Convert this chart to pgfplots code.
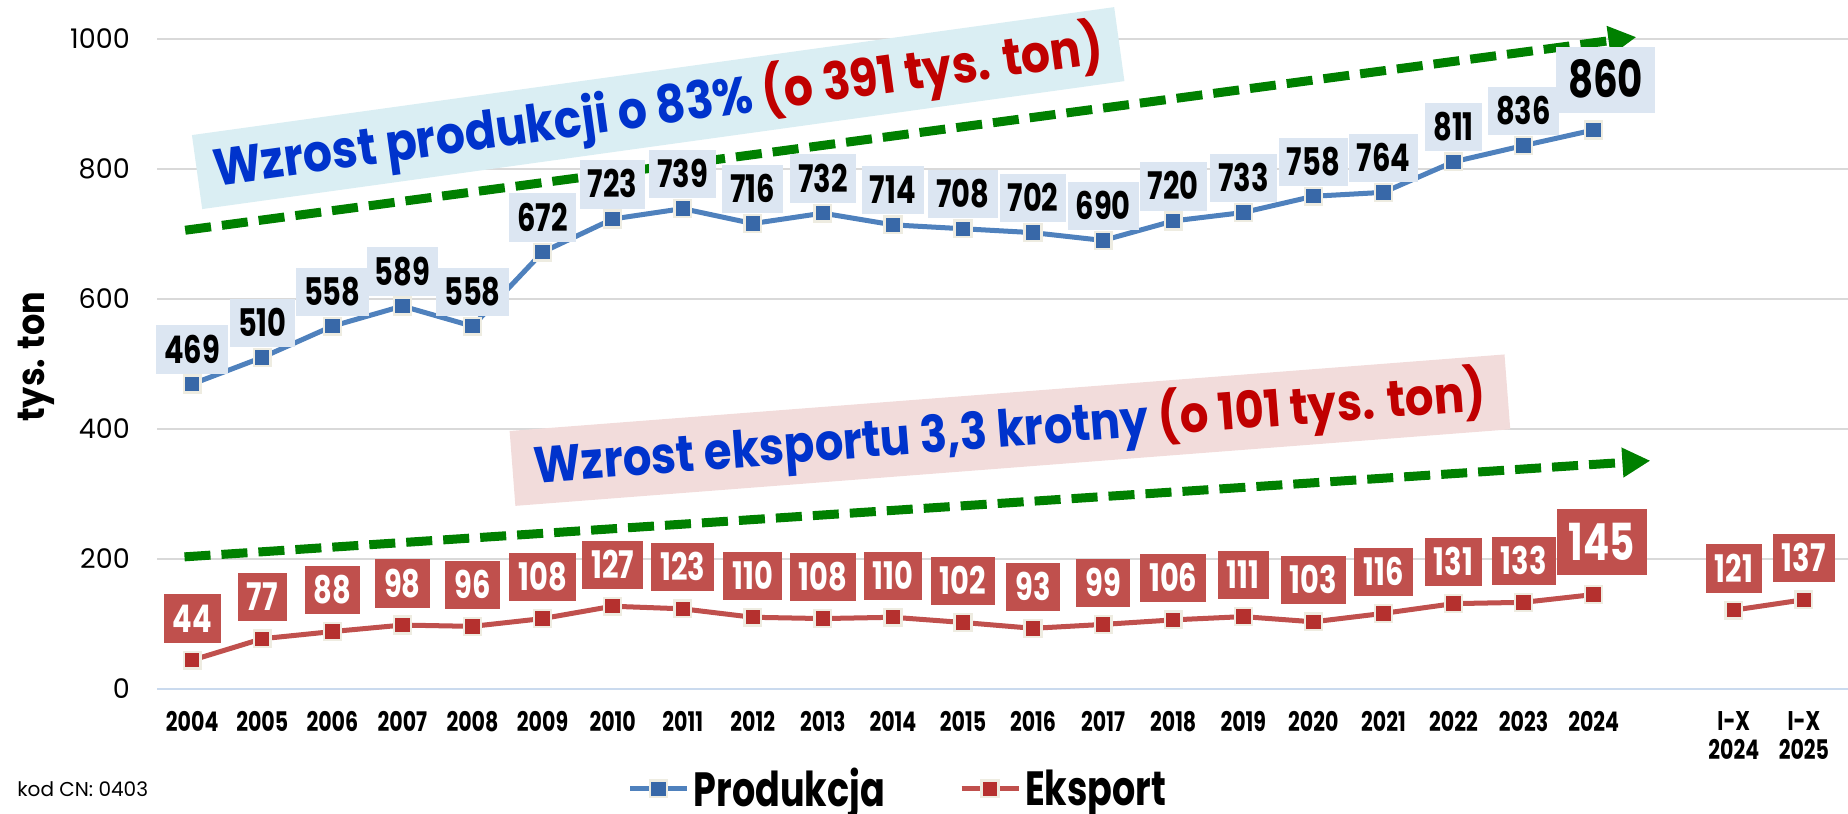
\documentclass[border=0pt]{standalone}
\usepackage{fontspec}
\setmainfont{Poppins}
\newfontfamily\fb{Poppins}[FakeStretch=0.88]
\newfontfamily\fc{Poppins}[FakeStretch=0.76]
\usepackage{pgfplots}
\pgfplotsset{compat=1.18}
\usetikzlibrary{arrows.meta}
\definecolor{prodline}{HTML}{4F81BD}
\definecolor{prodmark}{HTML}{3868A8}
\definecolor{cream}{HTML}{EEECE1}
\definecolor{lblblue}{HTML}{DCE6F2}
\definecolor{expline}{HTML}{C0504D}
\definecolor{expmark}{HTML}{B5302E}
\definecolor{annotA}{HTML}{DAEEF3}
\definecolor{annotB}{HTML}{F2DCDB}
\definecolor{txtblue}{HTML}{0033CC}
\definecolor{txtred}{HTML}{C00000}
\definecolor{arrgreen}{HTML}{008000}
\definecolor{gridgray}{HTML}{D9D9D9}
\definecolor{axisblue}{HTML}{CADAEE}
\pgfplotsset{/pgf/number format/assume math mode=true, /pgf/number format/1000 sep={}}
\begin{document}
\begin{tikzpicture}
\begin{axis}[
  name=ax,
  scale only axis,
  width=844.5pt, height=324.5pt,
  xmin=-0.5, xmax=23.63, ymin=0, ymax=1000,
  clip=false,
  axis line style={draw=none},
  tick style={draw=none},
  ytick={200,400,600,800,1000},
  extra y ticks={0},
  extra y tick style={major grid style={color=axisblue, line width=1.2pt}},
  ymajorgrids,
  major grid style={color=gridgray, line width=1pt},
  yticklabel style={font=\fontsize{13.5}{13.5}\selectfont, inner sep=0pt, anchor=east, xshift=-13.5pt},
  xtick={0,1,2,3,4,5,6,7,8,9,10,11,12,13,14,15,16,17,18,19,20,22,23},
  xticklabels={2004,2005,2006,2007,2008,2009,2010,2011,2012,2013,2014,2015,2016,2017,2018,2019,2020,2021,2022,2023,2024,{I-X\\2024},{I-X\\2025}},
  xticklabel style={font=\fc\bfseries\fontsize{13.5}{14.5}\selectfont, align=center, inner sep=0pt, anchor=north, yshift=-11pt},
  ylabel={tys. ton},
  every axis y label/.style={at={(axis description cs:-0.0716,0.511)}, rotate=90, anchor=center, font=\fb\bfseries\fontsize{19}{19}\selectfont},
  legend style={at={(axis description cs:0.4387,0)}, anchor=center, yshift=-50pt, draw=none, fill=none, inner sep=0pt,
    font=\fc\bfseries\fontsize{24}{24}\selectfont, legend columns=2, nodes={inner ysep=0pt},
    /tikz/every even column/.append style={column sep=35pt}},
  legend image code/.code={\draw[mark repeat=2, mark phase=2, #1] plot coordinates {(0pt,0pt) (14.25pt,0pt) (28.5pt,0pt)};},
]
% annotation boxes
\node[fill=annotA, rotate=7.9, inner xsep=8.5pt, minimum height=34.5pt,
  font=\fb\bfseries\fontsize{26}{26}\selectfont] at (axis cs:6.65,893.7)
  {\textcolor{txtblue}{Wzrost produkcji o 83\%} \textcolor{txtred}{(o 391 tys. ton)}};
\node[fill=annotB, rotate=4.4, inner xsep=11pt, minimum height=37.5pt,
  font=\fb\bfseries\fontsize{25.5}{25.5}\selectfont] at (axis cs:11.67,398)
  {\textcolor{txtblue}{Wzrost eksportu 3,3 krotny} \textcolor{txtred}{(o 101 tys. ton)}};
% series
\addplot[color=prodline, line width=2.5pt, mark=square*, mark size=4.2pt,
  mark options={fill=prodmark, draw=cream, line width=1.2pt}]
  coordinates {(0,469)(1,510)(2,558)(3,589)(4,558)(5,672)(6,723)(7,739)(8,716)(9,732)(10,714)(11,708)(12,702)(13,690)(14,720)(15,733)(16,758)(17,764)(18,811)(19,836)(20,860)};
\addlegendentry{Produkcja}
\addplot[color=expline, line width=2.5pt, mark=square*, mark size=4.2pt,
  mark options={fill=expmark, draw=cream, line width=1.2pt}]
  coordinates {(0,44)(1,77)(2,88)(3,98)(4,96)(5,108)(6,127)(7,123)(8,110)(9,108)(10,110)(11,102)(12,93)(13,99)(14,106)(15,111)(16,103)(17,116)(18,131)(19,133)(20,145)};
\addlegendentry{Eksport}
\addplot[forget plot, color=expline, line width=2.5pt, mark=square*, mark size=4.2pt,
  mark options={fill=expmark, draw=cream, line width=1.2pt}]
  coordinates {(22,121)(23,137)};
% data labels
\addplot[forget plot, draw=none, mark=none, nodes near coords,
  nodes near coords style={anchor=south, yshift=5pt, fill=lblblue, text=black,
    inner xsep=4pt, inner ysep=5.3pt, text height=13.5pt, text depth=0pt,
    font=\fc\bfseries\fontsize{19}{19}\selectfont}]
  coordinates {(0,469)(1,510)(2,558)(3,589)(4,558)(5,672)(6,723)(7,739)(8,716)(9,732)(10,714)(11,708)(12,702)(13,690)(14,720)(15,733)(16,758)(17,764)(18,811)(19,836)};
\addplot[forget plot, draw=none, mark=none, nodes near coords,
  nodes near coords style={anchor=south, yshift=8.5pt, xshift=6pt, fill=lblblue, text=black,
    inner xsep=6pt, inner ysep=7.5pt, text height=18pt, text depth=0pt,
    font=\fc\bfseries\fontsize{25.5}{25.5}\selectfont}]
  coordinates {(20,860)};
\addplot[forget plot, draw=none, mark=none, nodes near coords,
  nodes near coords style={anchor=south, yshift=8.5pt, fill=expline, text=white,
    inner xsep=4.5pt, inner ysep=5.3pt, text height=13.5pt, text depth=0pt,
    font=\fc\bfseries\fontsize{19}{19}\selectfont}]
  coordinates {(0,44)(1,77)(2,88)(3,98)(4,96)(5,108)(6,127)(7,123)(8,110)(9,108)(10,110)(11,102)(12,93)(13,99)(14,106)(15,111)(16,103)(17,116)(18,131)(19,133)(22,121)(23,137)};
\addplot[forget plot, draw=none, mark=none, nodes near coords,
  nodes near coords style={anchor=south, yshift=9.5pt, xshift=4pt, fill=expline, text=white,
    inner xsep=6pt, inner ysep=7.5pt, text height=18pt, text depth=0pt,
    font=\fc\bfseries\fontsize{25.5}{25.5}\selectfont}]
  coordinates {(20,145)};
% trend arrows
\draw[arrgreen, line width=4.5pt, dash pattern=on 13pt off 5.5pt, -{Triangle[length=14pt,width=14pt]}]
  (axis cs:-0.1,705.7) -- (axis cs:20.61,1003);
\draw[arrgreen, line width=4.5pt, dash pattern=on 13pt off 5.5pt, -{Triangle[length=14pt,width=14pt]}]
  (axis cs:-0.11,203) -- (axis cs:20.81,351);
\end{axis}
\node[anchor=west, inner sep=0pt, font=\fontsize{10}{10}\selectfont] at ([xshift=-70pt,yshift=-50pt]ax.south west) {kod CN: 0403};
\pgfresetboundingbox
\path ([xshift=-78.5pt,yshift=-62.5pt]ax.south west) rectangle ([yshift=19.5pt]ax.north east);
\end{tikzpicture}
\end{document}
